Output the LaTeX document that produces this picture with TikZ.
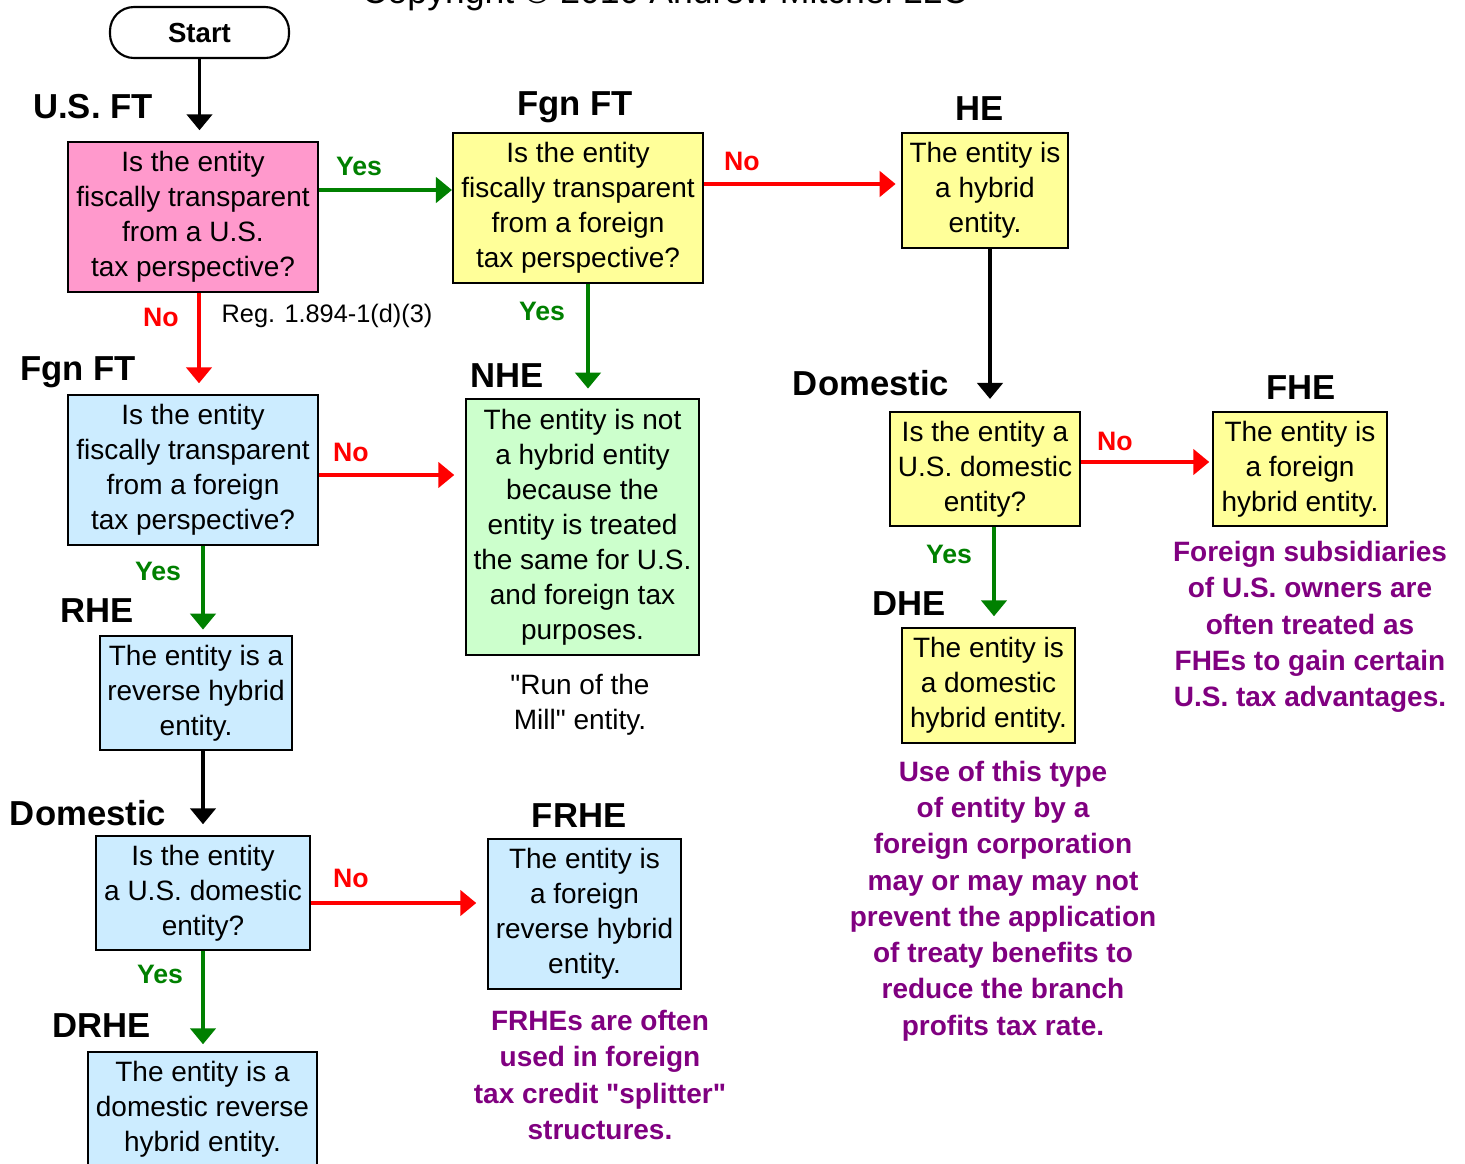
\documentclass[tikz,border=0pt]{standalone}
\usepackage{fontspec}
\setmainfont{Liberation Sans}
\usetikzlibrary{arrows.meta,calc}
\definecolor{pinkfill}{HTML}{FF99CC}
\definecolor{yellowfill}{HTML}{FFFF99}
\definecolor{greenfill}{HTML}{CCFFCC}
\definecolor{bluefill}{HTML}{CCECFF}
\definecolor{yesgreen}{HTML}{008000}
\definecolor{nored}{HTML}{FF0000}
\definecolor{notepurple}{HTML}{800080}
\begin{document}
\begin{tikzpicture}[x=0.75pt,y=-0.75pt,
  sz/.style 2 args={minimum width=#1*0.75pt, minimum height=#2*0.75pt},
  box/.style={draw=black, line width=1.6pt, inner sep=0pt, align=center,
    font=\fontsize{21}{26.25}\selectfont},
  head/.style={font=\bfseries\fontsize{26}{30}\selectfont, anchor=base, inner sep=0pt},
  yeslbl/.style={text=yesgreen, font=\bfseries\fontsize{20}{24}\selectfont, anchor=base, inner sep=0pt},
  nolbl/.style={text=nored, font=\bfseries\fontsize{20}{24}\selectfont, anchor=base, inner sep=0pt},
  note/.style={text=notepurple, font=\bfseries\fontsize{21}{27.2}\selectfont, align=center, inner sep=0pt},
  plain/.style={font=\fontsize{21}{26.25}\selectfont, align=center, inner sep=0pt},
  flow/.style={line width=2.8pt, -{Triangle[length=12pt,width=19pt]}},
  garr/.style={flow, draw=yesgreen, fill=yesgreen},
  rarr/.style={flow, draw=nored, fill=nored},
  barr/.style={flow, draw=black, fill=black}
]
\useasboundingbox (0,0) rectangle (1465,1164);

% copyright line (cut at top, as in the reference)
\node[anchor=base, inner sep=0pt, font=\fontsize{26.7}{30}\selectfont] (copy) at (665,3.5) {Copyright © 2010 Andrew Mitchel LLC};

% start
\node[draw=black, line width=1.6pt, rounded corners=18pt, inner sep=0pt, sz={179}{51},
      font=\bfseries\fontsize{20.7}{24}\selectfont] (start) at (199.5,32.5) {Start};

% boxes
\node[box, fill=pinkfill, sz={250}{150}] (q1) at (193,217) {Is the entity\\fiscally transparent\\from a U.S.\\tax perspective?};
\node[box, fill=yellowfill, sz={250}{150}] (q2) at (578,208) {Is the entity\\fiscally transparent\\from a foreign\\tax perspective?};
\node[box, fill=yellowfill, sz={166}{115}] (he) at (985,190.5) {The entity is\\a hybrid\\entity.};
\node[box, fill=yellowfill, sz={190}{114}] (dq) at (985,469) {Is the entity a\\U.S. domestic\\entity?};
\node[box, fill=yellowfill, sz={174}{114}] (fhe) at (1300,469) {The entity is\\a foreign\\hybrid entity.};
\node[box, fill=yellowfill, sz={173}{115}] (dhe) at (988.5,685.5) {The entity is\\a domestic\\hybrid entity.};
\node[box, fill=greenfill, sz={233}{256}] (nhe) at (582.5,527) {The entity is not\\a hybrid entity\\because the\\entity is treated\\the same for U.S.\\and foreign tax\\purposes.};
\node[box, fill=bluefill, sz={250}{150}] (q3) at (193,470) {Is the entity\\fiscally transparent\\from a foreign\\tax perspective?};
\node[box, fill=bluefill, sz={192}{114}] (rhe) at (196,693) {The entity is a\\reverse hybrid\\entity.};
\node[box, fill=bluefill, sz={214}{114}] (dq2) at (203,893) {Is the entity\\a U.S. domestic\\entity?};
\node[box, fill=bluefill, sz={193}{150}] (frhe) at (584.5,914) {The entity is\\a foreign\\reverse hybrid\\entity.};
\node[box, fill=bluefill, sz={229}{114}] (drhe) at (202.5,1109) {The entity is a\\domestic reverse\\hybrid entity.};

% headings
\node[head] (hUSFT) at (93,118) {U.S. FT};
\node[head] (hFgn1) at (575,115) {Fgn FT};
\node[head] (hHE) at (980,120) {HE};
\node[head] (hFgn2) at (78,380) {Fgn FT};
\node[head] (hNHE) at (507,387) {NHE};
\node[head] (hDom1) at (871,395) {Domestic};
\node[head] (hFHE) at (1301,399) {FHE};
\node[head] (hDHE) at (909,615) {DHE};
\node[head] (hRHE) at (97,622) {RHE};
\node[head] (hDom2) at (88,825) {Domestic};
\node[head] (hFRHE) at (579,827) {FRHE};
\node[head] (hDRHE) at (102,1037) {DRHE};

% yes / no labels
\node[yeslbl] (y1) at (359,175) {Yes};
\node[nolbl] (n1) at (161,326) {No};
\node[nolbl] (n2) at (742,170) {No};
\node[yeslbl] (y2) at (542,320) {Yes};
\node[nolbl] (n3) at (1115,450) {No};
\node[yeslbl] (y3) at (949,563) {Yes};
\node[yeslbl] (y4) at (158,580) {Yes};
\node[nolbl] (n4) at (351,461) {No};
\node[nolbl] (n5) at (351,887) {No};
\node[yeslbl] (y5) at (160,983) {Yes};

% other texts
\node[anchor=base, inner sep=0pt, font=\fontsize{19}{23}\selectfont] (reg) at (327,322) {Reg. 1.894-1(d)(3)};
\node[plain] (mill) at (580,705) {\textquotedbl Run of the\\Mill\textquotedbl{} entity.};

\node[note] (n_fhe) at (1310,627) {Foreign subsidiaries\\of U.S. owners are\\often treated as\\FHEs to gain certain\\U.S. tax advantages.};
\node[note] (n_dhe) at (1003,901) {Use of this type\\of entity by a\\foreign corporation\\may or may may not\\prevent the application\\of treaty benefits to\\reduce the branch\\profits tax rate.};
\node[note] (n_frhe) at (600,1075) {FRHEs are often\\used in foreign\\tax credit \textquotedbl splitter\textquotedbl\\structures.};

% connectors
\draw[barr, shorten >=8pt] (start.south) -- (start.south |- q1.north);
\draw[garr] ($(q1.east)+(0,-27)$) coordinate (a1) -- (a1 -| q2.west);
\draw[rarr, shorten >=4pt] ($(q2.east)+(0,-24)$) coordinate (a2) -- (a2 -| he.west);
\draw[barr, shorten >=9pt] ($(he.south)+(5,0)$) coordinate (a3) -- (a3 |- dq.north);
\draw[rarr, shorten >=2pt] ($(dq.east)+(0,-7)$) coordinate (a4) -- (a4 -| fhe.west);
\draw[garr, shorten >=8pt] ($(dq.south)+(9,0)$) coordinate (a5) -- (a5 |- dhe.north);
\draw[garr, shorten >=7pt] ($(q2.south)+(10,0)$) coordinate (a6) -- (a6 |- nhe.north);
\draw[rarr, shorten >=8pt] ($(q1.south)+(6,0)$) coordinate (a7) -- (a7 |- q3.north);
\draw[rarr, shorten >=8pt] ($(q3.east)+(0,5)$) coordinate (a8) -- (a8 -| nhe.west);
\draw[garr, shorten >=4pt] ($(q3.south)+(10,0)$) coordinate (a9) -- (a9 |- rhe.north);
\draw[barr, shorten >=8pt] ($(rhe.south)+(7,0)$) coordinate (a10) -- (a10 |- dq2.north);
\draw[rarr, shorten >=8pt] ($(dq2.east)+(0,10)$) coordinate (a11) -- (a11 -| frhe.west);
\draw[garr, shorten >=5pt] (dq2.south) -- (dq2.south |- drhe.north);
\end{tikzpicture}
\end{document}
